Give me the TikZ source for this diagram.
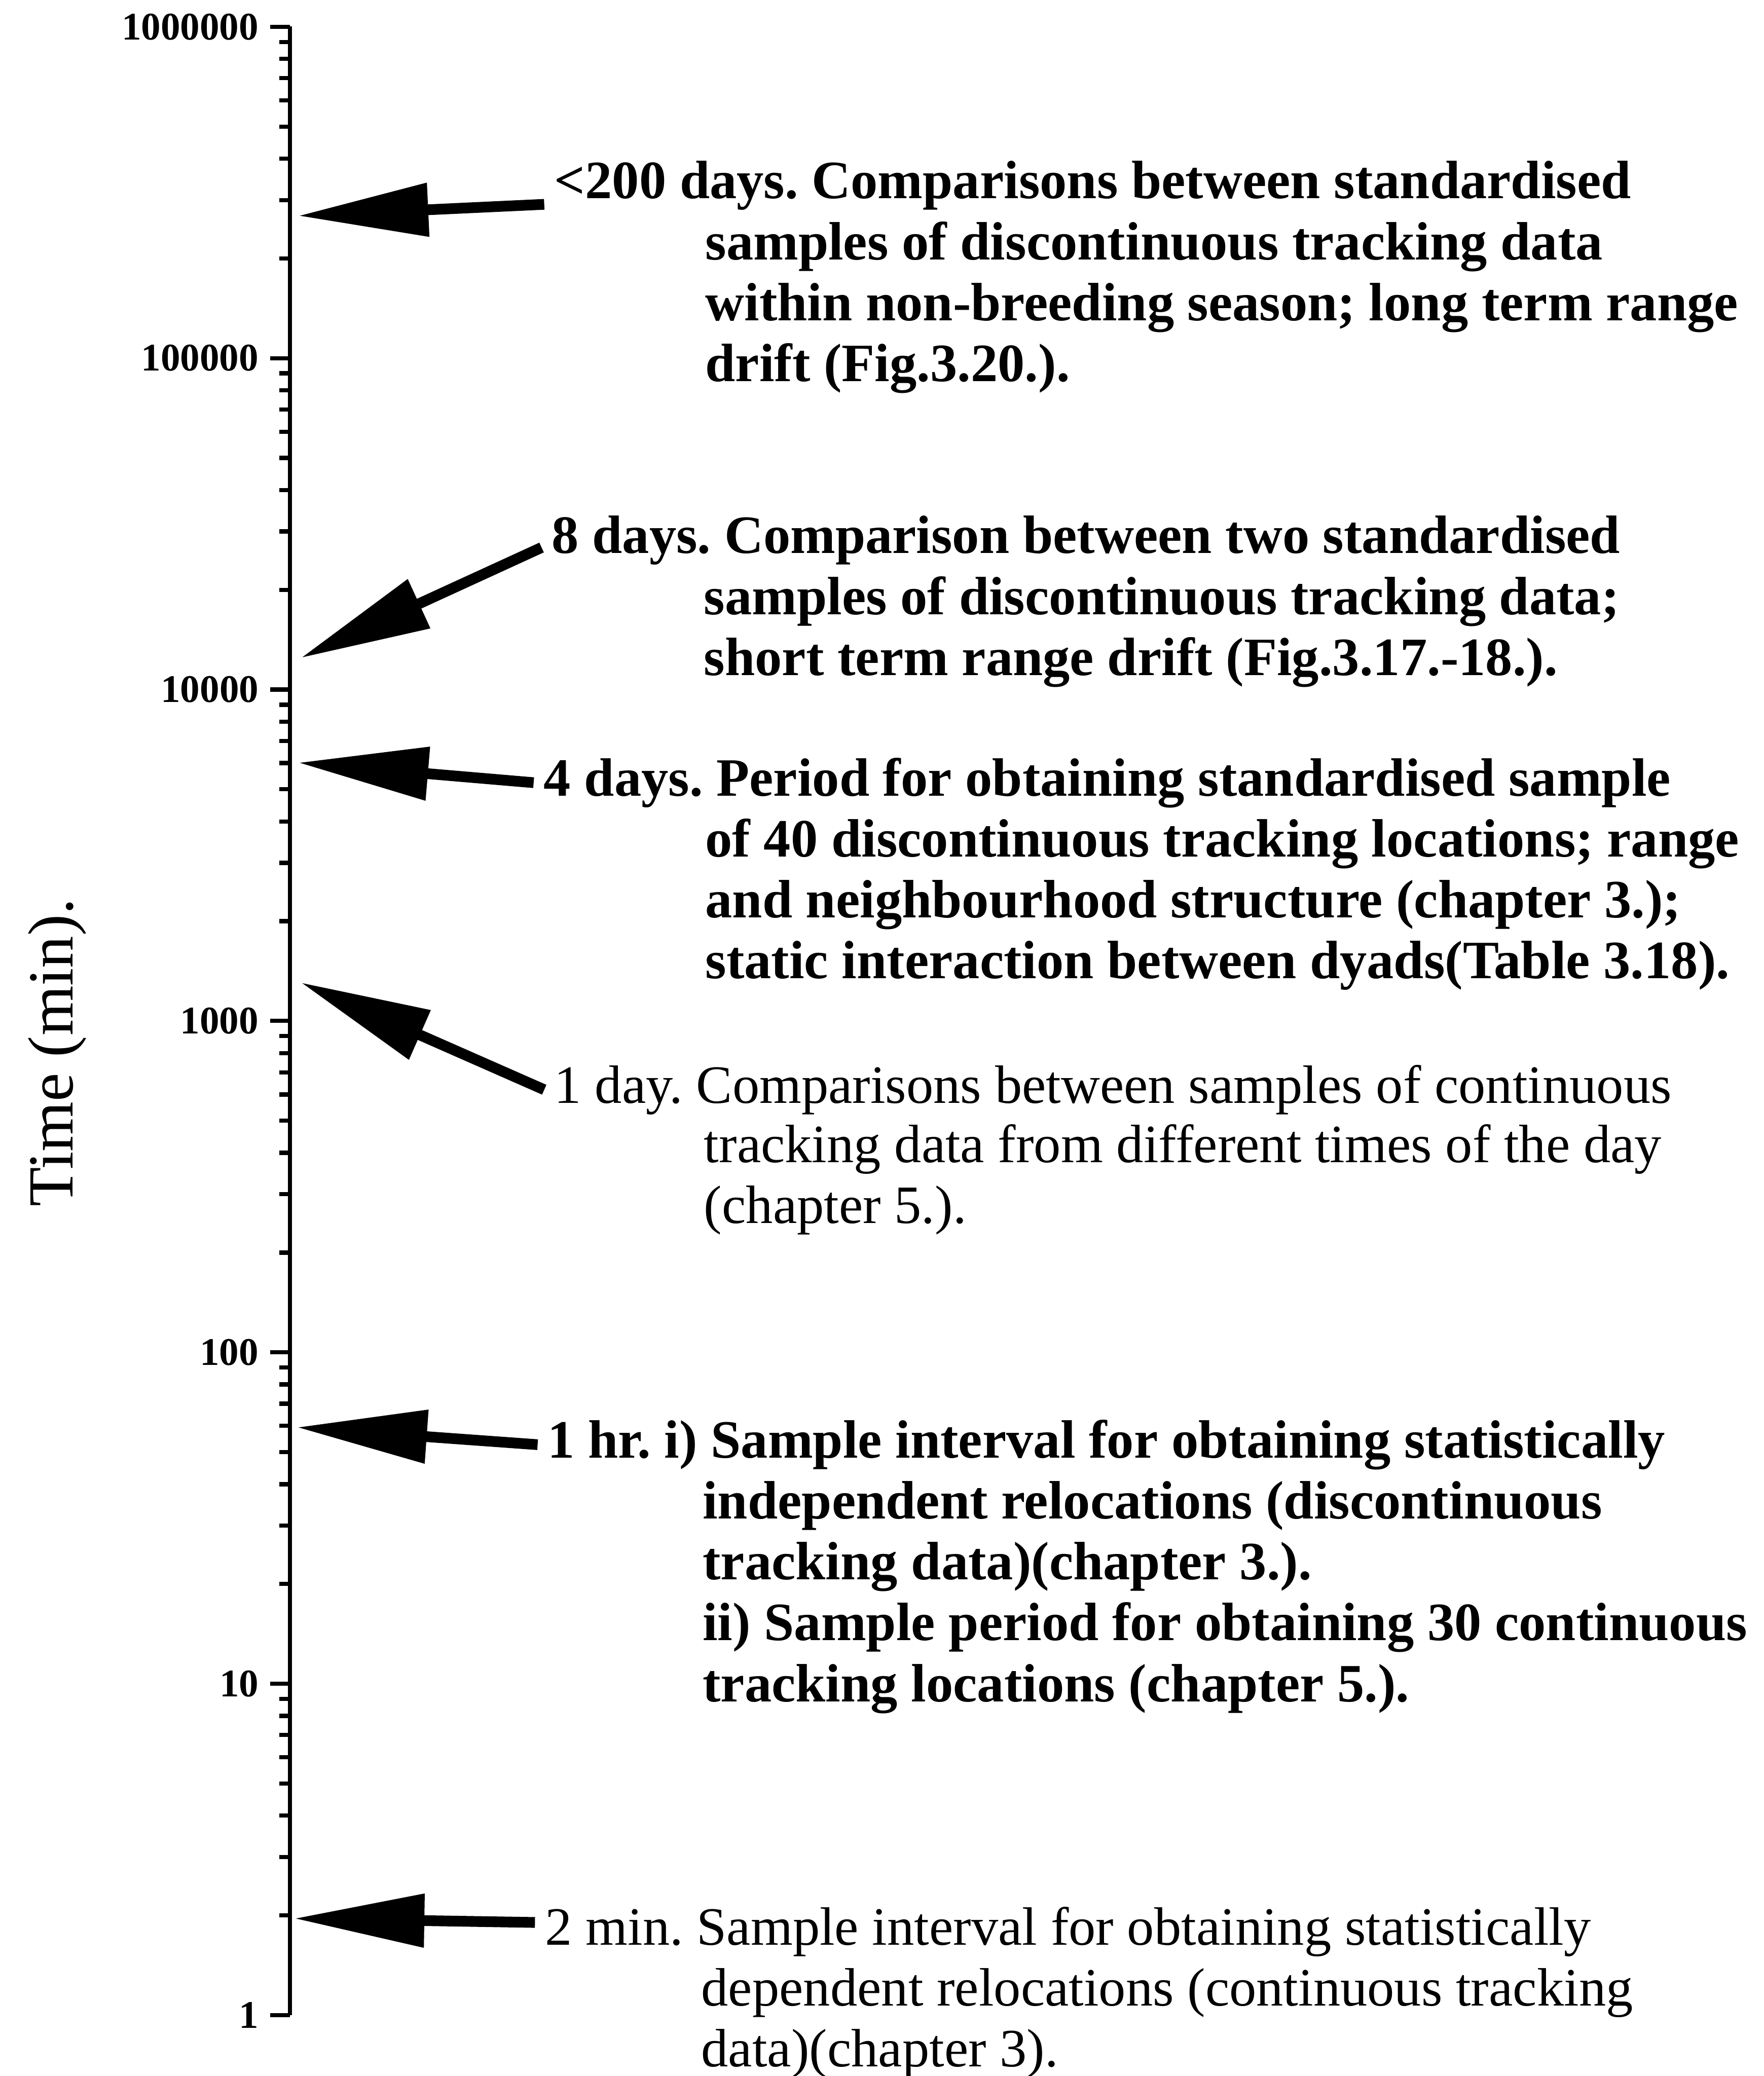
\documentclass[tikz,border=0pt]{standalone}
\usepackage{fontspec}
\setmainfont{Liberation Serif}
\usetikzlibrary{arrows.meta,positioning}
\frenchspacing

\begin{document}
\begin{tikzpicture}[x=0.01cm,y=-0.01cm,
  axisline/.style={line width=0.9pt},
  pointer/.style={line width=2.3pt,-{Triangle[length=28pt,width=11pt]}},
  ticklab/.style={anchor=east,inner sep=0pt,font=\fontsize{8.4}{9}\selectfont\bfseries},
  lead/.style={anchor=base west,inner xsep=2pt,inner ysep=0pt,font=\fontsize{11.6}{13.1}\selectfont},
  body/.style={anchor=base west,inner sep=0pt,text width=8.4cm,align=flush left,font=\fontsize{11.6}{13.1}\selectfont},
  heavy/.style={font=\fontsize{11.6}{13.1}\selectfont\bfseries}]
  \useasboundingbox (0,0) rectangle (1332,1568);
  % log axis
  \draw[axisline] (219,20) -- (219,1522);
  \foreach \d/\lab in {0/1,1/10,2/100,3/1000,4/10000,5/100000,6/1000000} {
    \pgfmathsetmacro\ty{1522-250.3*\d}
    \draw[axisline] (204,\ty) -- (219,\ty);
    \node[ticklab] (t\d) at (196,\ty) {\lab};
  }
  \foreach \d in {0,...,5}
    \foreach \m in {2,...,9} {
      \pgfmathsetmacro\ty{1522-250.3*(\d+log10(\m))}
      \draw[axisline] (211,\ty) -- (219,\ty);
    }
  \node[rotate=90,anchor=base,inner sep=0pt,font=\fontsize{13.8}{15}\selectfont] (ylab) at (55,795) {Time (min).};
  % arrow tips on the axis
  \coordinate (pa) at (225,163);
  \coordinate (pb) at (227,497);
  \coordinate (pc) at (225,576);
  \coordinate (pd) at (227,742);
  \coordinate (pe) at (224,1078);
  \coordinate (pf) at (222,1449);
  % first lines
  \node[lead,heavy] (la) at (411,150) {<200 days. Comparisons between standardised};
  \node[lead,heavy] (lb) at (409,418) {8 days. Comparison between two standardised};
  \node[lead,heavy] (lc) at (403,601) {4 days. Period for obtaining standardised sample};
  \node[lead] (ld) at (411,833) {1 day. Comparisons between samples of continuous};
  \node[lead,heavy] (le) at (406,1101) {1 hr. i) Sample interval for obtaining statistically};
  \node[lead] (lf) at (404,1469) {2 min. Sample interval for obtaining statistically};
  % indented lines
  \node[body,heavy] (ta) at (532,196) {samples of discontinuous tracking data\\
    within non-breeding season; long term range\\
    drift (Fig.3.20.).};
  \node[body,heavy] (tb) at (531,464) {samples of discontinuous tracking data;\\
    short term range drift (Fig.3.17.-18.).};
  \node[body,heavy] (tc) at (532,647) {of 40 discontinuous tracking locations; range\\
    and neighbourhood structure (chapter 3.);\\
    static interaction between dyads(Table 3.18).};
  \node[body] (td) at (531,878) {tracking data from different times of the day\\
    (chapter 5.).};
  \node[body,heavy] (te) at (530,1147) {independent relocations (discontinuous\\
    tracking data)(chapter 3.).\\
    ii) Sample period for obtaining 30 continuous\\
    tracking locations (chapter 5.).};
  \node[body] (tf) at (529,1515) {dependent relocations (continuous tracking\\
    data)(chapter 3).};
  % arrows
  \draw[pointer] ([yshift=-4pt]la.west) -- (pa);
  \draw[pointer] ([yshift=-1.5pt]lb.west) -- (pb);
  \draw[pointer] (lc.west) -- (pc);
  \draw[pointer] (ld.west) -- (pd);
  \draw[pointer] (le.west) -- (pe);
  \draw[pointer] ([yshift=2pt]lf.west) -- (pf);
\end{tikzpicture}
\end{document}
